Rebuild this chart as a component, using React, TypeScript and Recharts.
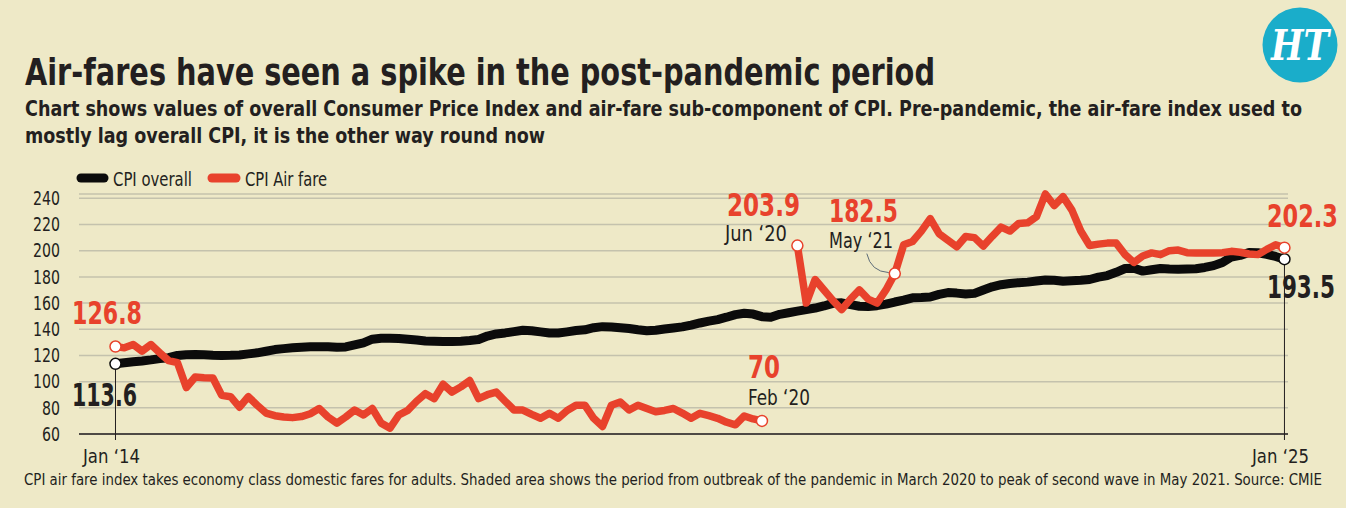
import { LineChart, Line, XAxis, YAxis, CartesianGrid, ReferenceArea, ReferenceLine } from 'recharts';

const START_YEAR = 2014;
const MONTHS = ['Jan', 'Feb', 'Mar', 'Apr', 'May', 'Jun', 'Jul', 'Aug', 'Sep', 'Oct', 'Nov', 'Dec'];

// CPI overall, monthly, Jan '14 .. Jan '25
const cpiOverall = [
  113.6, 114.4, 115.2, 115.8, 116.6, 117.6, 118.3, 120.0, 120.6, 120.8, 120.6, 120.2,
  120.0, 120.1, 120.4, 121.2, 122.0, 123.2, 124.5, 125.2, 125.8, 126.3, 126.7, 126.6,
  126.6, 126.2, 126.5, 128.0, 129.6, 132.4, 133.2, 133.2, 133.0, 132.4, 131.8, 131.0,
  130.8, 130.6, 130.6, 130.9, 131.4, 132.2, 134.8, 136.4, 137.2, 138.2, 139.2, 138.8,
  138.0, 137.2, 137.1, 138.0, 139.0, 139.6, 141.2, 142.0, 141.8, 141.2, 140.6, 139.6,
  138.8, 139.3, 140.2, 141.0, 141.8, 143.2, 144.8, 146.2, 147.4, 149.2, 151.2, 152.2,
  151.6, 149.6, 149.2, 151.4, 152.6, 153.8, 155.0, 156.2, 157.8, 159.8, 160.2, 158.8,
  157.6, 157.4, 158.0, 159.2, 160.8, 162.2, 164.0, 164.2, 164.6, 166.6, 168.0, 167.6,
  167.0, 167.4, 170.0, 172.4, 174.0, 175.0, 175.6, 176.0, 176.8, 177.6, 177.4, 176.6,
  177.0, 177.4, 178.0, 179.8, 181.0, 183.5, 186.4, 186.6, 184.4, 185.4, 186.4, 186.0,
  185.8, 186.0, 186.2, 187.2, 188.6, 191.0, 195.2, 196.4, 198.6, 198.4, 197.2, 195.6,
  193.5,
];

// CPI air fare, no index published Mar-May '20
const cpiAirFare = [
  126.8, 125.8, 128.3, 123.3, 128.3, 122.0, 116.0, 114.5, 95.5, 103.5, 103.0, 102.8,
  89.5, 88.5, 80.5, 88.5, 82.0, 76.0, 74.0, 73.0, 72.5, 73.3, 75.5, 79.5,
  73.0, 68.3, 73.0, 78.3, 74.5, 79.5, 68.3, 64.5, 74.5, 78.0, 85.0, 90.8,
  87.0, 98.0, 92.0, 96.0, 100.8, 87.0, 90.0, 92.0, 85.0, 78.3, 78.3, 75.0,
  72.0, 75.8, 72.0, 78.0, 82.0, 82.0, 72.0, 65.8, 82.0, 84.5, 78.3, 82.0,
  79.5, 77.0, 78.0, 79.5, 76.0, 72.0, 75.8, 74.0, 72.0, 69.0, 67.0, 73.8,
  71.5, 70, null, null, null, 203.9, 160.0, 178.0, 170.0, 162.0, 155.0, 163.0,
  170.0, 163.0, 160.0, 170.0, 182.5, 204.5, 207.0, 215.0, 224.5, 213.0, 208.0, 203.0,
  210.8, 210.0, 203.5, 211.0, 218.0, 215.0, 220.8, 221.3, 226.0, 243.3, 234.5, 241.3,
  231.0, 215.0, 204.0, 205.0, 205.8, 205.8, 197.0, 191.0, 196.0, 198.3, 197.0, 200.0,
  200.5, 198.5, 198.3, 198.3, 198.3, 198.5, 199.5, 198.8, 197.5, 197.0, 201.0, 204.5,
  202.3,
];

const yTicks = [60, 80, 100, 120, 140, 160, 180, 200, 220, 240];
const xTicks = [0, 132];
const xDomain = [-4.12, 132.4];
const pandemicStart = 74; // Mar '20
const pandemicEnd = 88; // May '21
const airMarked = [0, 73, 77, 88, 132];
const cpiMarked = [0, 132];

const RED = '#e8422c';
const BLACK = '#0b0b0b';
const INK = '#231f20';
const BG = '#eee9c7';
const GRID = '#c4c2ad';
const COND = "'Liberation Sans Narrow', 'DejaVu Sans Condensed', Roboto, sans-serif";
const MARGIN = { top: 194, right: 58, bottom: 0, left: 0 };

const monthLabel = (i: number) =>
  `${MONTHS[i % 12]} \u2018${String((START_YEAR + Math.floor(i / 12)) % 100).padStart(2, '0')}`;

const data = cpiOverall.map((v, i) => ({ m: i, cpi: v, air: cpiAirFare[i] }));

const Num = ({ x, y, w, color, text }: any) => (
  <text x={x} y={y} fontSize={32} fontWeight={700} fill={color} fontFamily={COND}
    textLength={w} lengthAdjust="spacingAndGlyphs">{text}</text>
);

const DateLab = ({ x, y, w, text }: any) => (
  <text x={x} y={y} fontSize={21} fill={INK} fontFamily={COND}
    textLength={w} lengthAdjust="spacingAndGlyphs">{text}</text>
);

const airDot = (p: any) => {
  const { cx, cy, index } = p;
  if (cx == null || cy == null || !airMarked.includes(index)) return <g key={`ad${index}`} />;
  const val = String(cpiAirFare[index]);
  let lab: any = null;
  if (index === 0) lab = <Num x={cx - 43.5} y={cy - 23} w={70} color={RED} text={val} />;
  if (index === 73) lab = (
    <g>
      <Num x={cx - 14} y={cy - 43} w={32} color={RED} text={val} />
      <DateLab x={cx - 14} y={cy - 16} w={62} text={monthLabel(index)} />
    </g>
  );
  if (index === 77) lab = (
    <g>
      <Num x={cx - 70.4} y={cy - 30} w={73} color={RED} text={val} />
      <DateLab x={cx - 72.4} y={cy - 5} w={62} text={monthLabel(index)} />
    </g>
  );
  if (index === 88) lab = (
    <g>
      <Num x={cx - 65.8} y={cy - 52} w={69} color={RED} text={val} />
      <DateLab x={cx - 65.8} y={cy - 26} w={64} text={monthLabel(index)} />
      <path d={`M${cx - 28},${cy - 20} Q${cx - 24},${cy - 2} ${cx - 6},${cy - 1}`}
        fill="none" stroke="#5d6c78" strokeWidth={1} />
    </g>
  );
  if (index === 132) lab = <Num x={cx - 17.5} y={cy - 21} w={71} color={RED} text={val} />;
  return (
    <g key={`ad${index}`}>
      {lab}
      <circle cx={cx} cy={cy} r={5.5} fill="#fff" stroke={RED} strokeWidth={1.5} />
    </g>
  );
};

const cpiDot = (p: any) => {
  const { cx, cy, index } = p;
  if (cx == null || cy == null || !cpiMarked.includes(index)) return <g key={`cd${index}`} />;
  const val = String(cpiOverall[index]);
  return (
    <g key={`cd${index}`}>
      {index === 0
        ? <Num x={cx - 43.5} y={cy + 42.5} w={65} color={INK} text={val} />
        : <Num x={cx - 17.5} y={cy + 39} w={68} color={INK} text={val} />}
      <circle cx={cx} cy={cy} r={5.5} fill="#fff" stroke={BLACK} strokeWidth={1.5} />
    </g>
  );
};

const YTick = ({ x, y, payload }: any) => {
  const s = String(payload.value);
  return (
    <text x={x} y={y + 6.7} textAnchor="end" fontSize={19} fill={INK} fontFamily={COND}
      textLength={s.length * 9} lengthAdjust="spacingAndGlyphs">{s}</text>
  );
};

const XTick = ({ x, y, payload }: any) => (
  <text x={x - 4} y={y + 23} textAnchor="middle" fontSize={20} fill={INK} fontFamily={COND}
    textLength={57} lengthAdjust="spacingAndGlyphs">{monthLabel(payload.value)}</text>
);

export default function App() {
  return (
    <div style={{ position: 'fixed', left: 0, top: 0, width: 1346, height: 508, background: BG, overflow: 'hidden' }}>
      <svg width={1346} height={508} style={{ position: 'absolute', left: 0, top: 0 }}>
        <text x={25} y={85} fontSize={38} fontWeight={700} fill={INK} fontFamily={COND}
          textLength={910} lengthAdjust="spacingAndGlyphs">
          Air-fares have seen a spike in the post-pandemic period
        </text>
        <text x={25} y={116} fontSize={21} fontWeight={600} fill={INK} fontFamily={COND}
          textLength={1277} lengthAdjust="spacingAndGlyphs">
          Chart shows values of overall Consumer Price Index and air-fare sub-component of CPI. Pre-pandemic, the air-fare index used to
        </text>
        <text x={25} y={143} fontSize={21} fontWeight={600} fill={INK} fontFamily={COND}
          textLength={520} lengthAdjust="spacingAndGlyphs">
          mostly lag overall CPI, it is the other way round now
        </text>
        <circle cx={1300} cy={45} r={37.5} fill="#1aadca" />
        <text x={1300} y={60} textAnchor="middle" fontSize={42} fontWeight={700} fontStyle="italic"
          fill="#fff" fontFamily="'DejaVu Serif', 'Liberation Serif', serif"
          textLength={58} lengthAdjust="spacingAndGlyphs">HT</text>

        <line x1={81} y1={178} x2={104} y2={178} stroke={BLACK} strokeWidth={9} strokeLinecap="round" />
        <text x={113} y={186} fontSize={20} fill={INK} fontFamily={COND}
          textLength={79} lengthAdjust="spacingAndGlyphs">CPI overall</text>
        <line x1={212} y1={178} x2={236} y2={178} stroke={RED} strokeWidth={9} strokeLinecap="round" />
        <text x={245} y={186} fontSize={20} fill={INK} fontFamily={COND}
          textLength={82} lengthAdjust="spacingAndGlyphs">CPI Air fare</text>

        <text x={24} y={485} fontSize={16} fill={INK} fontFamily={COND}
          textLength={1298} lengthAdjust="spacingAndGlyphs">
          CPI air fare index takes economy class domestic fares for adults. Shaded area shows the period from outbreak of the pandemic in March 2020 to peak of second wave in May 2021. Source: CMIE
        </text>
      </svg>

      {/* shaded pandemic band, drawn under the grid */}
      <div style={{ position: 'absolute', left: 0, top: 0 }}>
        <LineChart width={1346} height={508} data={data} margin={MARGIN}>
          <XAxis dataKey="m" type="number" domain={xDomain} ticks={xTicks} height={74} hide />
          <YAxis type="number" domain={[60, 240]} ticks={yTicks} width={79} hide />
          <ReferenceArea x1={pandemicStart} x2={pandemicEnd} y1={60} y2={240}
            fill="#ffffff" fillOpacity={1} stroke="none" />
        </LineChart>
      </div>

      <div style={{ position: 'absolute', left: 0, top: 0 }}>
        <LineChart width={1346} height={508} data={data} margin={MARGIN}>
          <CartesianGrid vertical={false} stroke={GRID} strokeWidth={1.5} />
          <XAxis dataKey="m" type="number" domain={xDomain} ticks={xTicks}
            height={74} tickSize={6} tickMargin={0} tick={<XTick />}
            axisLine={{ stroke: INK, strokeWidth: 1.5 }} tickLine={{ stroke: INK, strokeWidth: 1 }} />
          <YAxis type="number" domain={[60, 240]} ticks={yTicks} width={79}
            tickSize={6} tickMargin={13} tick={<YTick />} axisLine={false} tickLine={false} />
          <ReferenceLine segment={[{ x: 0, y: cpiOverall[0] }, { x: 0, y: 60 }]} stroke={INK} strokeWidth={1} />
          <ReferenceLine segment={[{ x: 132, y: cpiOverall[132] }, { x: 132, y: 60 }]} stroke={INK} strokeWidth={1} />
          <Line dataKey="cpi" type="linear" stroke={BLACK} strokeWidth={9} strokeLinejoin="round"
            strokeLinecap="round" dot={cpiDot} activeDot={false} isAnimationActive={false} />
          <Line dataKey="air" type="linear" stroke={RED} strokeWidth={7.5} strokeLinejoin="round"
            strokeLinecap="round" dot={airDot} activeDot={false} connectNulls={false} isAnimationActive={false} />
        </LineChart>
      </div>
    </div>
  );
}
